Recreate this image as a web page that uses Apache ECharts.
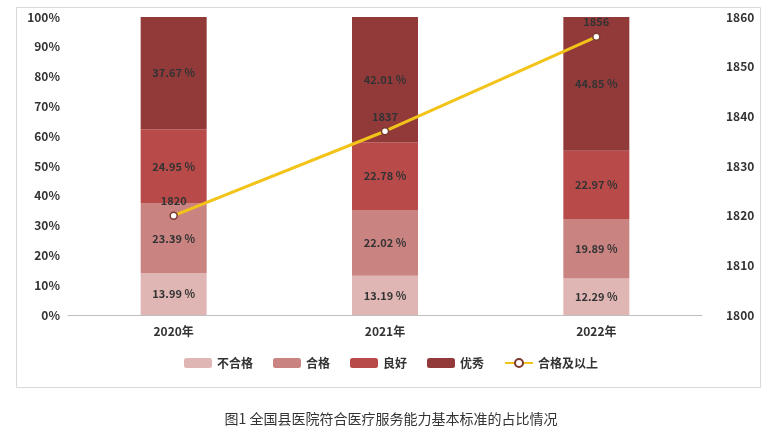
<!DOCTYPE html>
<html>
<head>
<meta charset="utf-8">
<script src="https://cdn.jsdelivr.net/npm/echarts@6/dist/echarts.min.js"></script>
<style>
html,body{margin:0;padding:0;background:#fff;}
#main{width:782px;height:438px;}
</style>
</head>
<body>
<div id="main"></div>
<script>
// 年份和各等级占比
var years = ['2020年', '2021年', '2022年'];
var buhege = [13.99, 13.19, 12.29];
var hege = [23.39, 22.02, 19.89];
var lianghao = [24.95, 22.78, 22.97];
var youxiu = [37.67, 42.01, 44.85];
var hegeYishang = [1820, 1837, 1856];

var myChart = echarts.init(document.getElementById('main'));

function barSeries(name, data, color) {
    return {
        name: name,
        type: 'bar',
        stack: 'total',
        barWidth: 66,
        data: data,
        itemStyle: {color: color},
        label: {
            show: true,
            formatter: function (p) { return p.value.toFixed(2) + ' %'; },
            color: '#333',
            fontSize: 11,
            fontWeight: 'bold'
        }
    };
}

var option = {
    textStyle: {fontFamily: 'Noto Sans CJK SC'},
    animation: false,
    grid: {left: 68, right: 80, top: 17, bottom: 123},
    graphic: [
        {type: 'rect', left: 14, top: 5, shape: {width: 744, height: 380},
         style: {fill: 'none', stroke: '#d9d9d9', lineWidth: 1}},
        {type: 'text', left: 'center', top: 412,
         style: {text: '图1 全国县医院符合医疗服务能力基本标准的占比情况', fill: '#333', fontSize: 14, fontFamily: 'Noto Sans CJK SC'}}
    ],
    legend: {
        bottom: 64,
        left: 'center',
        itemWidth: 28,
        itemHeight: 10,
        itemGap: 20,
        textStyle: {fontSize: 12, color: '#333', fontWeight: 'bold'},
        data: ['不合格', '合格', '良好', '优秀', '合格及以上']
    },
    xAxis: {
        type: 'category',
        data: years,
        axisTick: {show: false},
        axisLine: {lineStyle: {color: '#bfbfbf'}},
        axisLabel: {color: '#333', fontWeight: 'bold', fontSize: 12, margin: 10}
    },
    yAxis: [
        {
            type: 'value', min: 0, max: 100, interval: 10,
            axisLabel: {formatter: '{value}%', color: '#333', fontWeight: 'bold', fontSize: 12},
            splitLine: {show: false}
        },
        {
            type: 'value', min: 1800, max: 1860, interval: 10,
            axisLabel: {formatter: function (v) { return String(v); }, color: '#333', fontWeight: 'bold', fontSize: 12, margin: 24},
            splitLine: {show: false}
        }
    ],
    series: [
        barSeries('不合格', buhege, '#dfb6b4'),
        barSeries('合格', hege, '#c98381'),
        barSeries('良好', lianghao, '#b84b49'),
        barSeries('优秀', youxiu, '#923a39'),
        {
            name: '合格及以上',
            type: 'line',
            yAxisIndex: 1,
            data: hegeYishang,
            symbol: 'circle',
            symbolSize: 7,
            lineStyle: {color: '#f2c318', width: 3},
            itemStyle: {color: '#fff', borderColor: '#7a3a30', borderWidth: 1.5},
            label: {show: true, position: 'top', color: '#333', fontWeight: 'bold', fontSize: 11}
        }
    ]
};

myChart.setOption(option);
</script>
</body>
</html>
